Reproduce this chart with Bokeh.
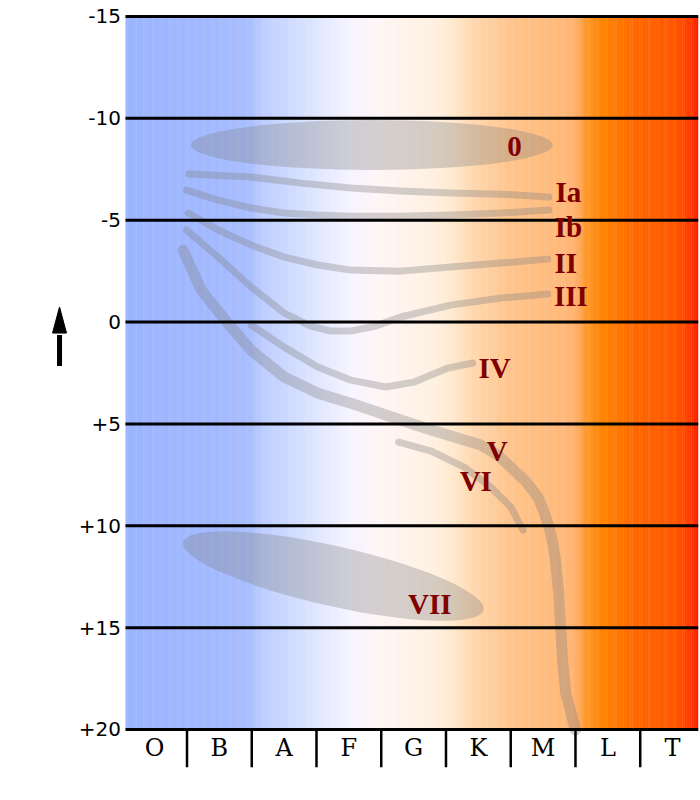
import numpy as np
from bokeh.plotting import figure
from bokeh.models import Range1d, ColumnDataSource
from bokeh.core.properties import value
from bokeh.embed import file_html
from bokeh.resources import INLINE

# ---------------- data ----------------
spectral_classes = ["O", "B", "A", "F", "G", "K", "M", "L", "T"]
class_centers = [0.5, 1.5, 2.5, 3.5, 4.5, 5.5, 6.5, 7.5, 8.5]
class_bounds = [1, 2, 3, 4, 5, 6, 7, 8]

mag_ticks = [-15, -10, -5, 0, 5, 10, 15, 20]
mag_labels = ["-15", "-10", "-5", "0", "+5", "+10", "+15", "+20"]

# luminosity-class tracks: spectral position vs absolute magnitude
ia_x = [1.03, 1.99, 2.76, 3.53, 4.30, 5.07, 5.85, 6.59]
ia_y = [-7.27, -7.12, -6.82, -6.58, -6.43, -6.33, -6.28, -6.14]

ib_x = [0.99, 1.48, 1.99, 2.50, 3.02, 3.53, 4.30, 5.07, 5.85, 6.59]
ib_y = [-6.48, -5.99, -5.60, -5.35, -5.25, -5.20, -5.20, -5.25, -5.35, -5.50]

ii_x = [1.02, 1.48, 1.99, 2.50, 3.02, 3.53, 4.30, 5.07, 5.85, 6.57]
ii_y = [-5.35, -4.52, -3.78, -3.19, -2.80, -2.55, -2.50, -2.70, -2.90, -3.09]

iii_x = [0.99, 1.48, 1.99, 2.50, 2.91, 3.22, 3.53, 3.91, 4.30, 5.07, 5.85, 6.57]
iii_y = [-4.52, -3.19, -1.72, -0.44, 0.20, 0.44, 0.44, 0.20, -0.25, -0.83, -1.18, -1.38]

iv_x = [1.99, 2.50, 3.02, 3.53, 4.07, 4.50, 5.03, 5.41]
iv_y = [0.15, 1.23, 2.21, 2.85, 3.19, 2.95, 2.26, 2.01]

v_x = [0.94, 1.22, 1.63, 1.99, 2.50, 3.02, 3.53, 4.30, 4.77, 5.54, 5.80, 6.05,
       6.23, 6.42, 6.51, 6.59, 6.65, 6.69, 6.74, 6.77, 6.80, 6.85, 6.96, 7.00]
v_y = [-3.53, -1.57, 0.05, 1.38, 2.70, 3.49, 3.98, 4.81, 5.30, 6.04, 6.53, 7.27,
       7.81, 8.59, 9.28, 10.06, 10.85, 11.68, 13.30, 14.97, 16.59, 18.21, 19.54, 20.03]

vi_x = [4.27, 4.77, 5.28, 5.69, 6.00, 6.19]
vi_y = [5.89, 6.33, 7.12, 8.10, 9.08, 10.21]

# hypergiant (0) and white-dwarf (VII) regions
zero_x, zero_y, zero_w, zero_h = 3.855, -8.69, 5.59, 2.45
vii_x, vii_y = 3.26, 12.47

lum_labels = ["0", "Ia", "Ib", "II", "III", "IV", "V", "VI", "VII"]
lum_label_x = [6.06, 6.89, 6.89, 6.85, 6.93, 5.75, 5.79, 5.46, 4.75]
lum_label_y = [-8.64, -6.38, -4.66, -2.89, -1.27, 2.26, 6.33, 7.81, 13.85]

# background colour stops (spectral position, colour)
grad_x = [0.05, 1.41, 1.98, 2.15, 2.84, 3.52, 3.98, 4.84, 5.12, 5.41, 5.98,
          6.83, 7.00, 7.15, 7.41, 7.70, 7.98, 8.56, 8.72, 8.90]
grad_c = ["#9bb4ff", "#a2b9ff", "#a9beff", "#bcccff", "#d8e2ff", "#f6f4ff",
          "#fff5f5", "#fff0e0", "#ffe8cc", "#ffd8b0", "#ffc48c", "#ffb878",
          "#ffb070", "#ff9a30", "#ff8400", "#ff7500", "#ff6600", "#ff5500",
          "#ff4400", "#ff2000"]

# ---------------- figure ----------------
X0, X1 = 0.05, 8.90
p = figure(width=700, height=780, output_backend="svg", toolbar_location=None,
           x_range=Range1d(-1.8805, X1), y_range=Range1d(22.16, -15.785),
           x_axis_location=None, y_axis_location=None,
           min_border_left=0, min_border_right=2, min_border_top=0,
           min_border_bottom=7, outline_line_color=None)
p.grid.visible = False

# background gradient strips
def _rgb(h):
    return [int(h[i:i + 2], 16) for i in (1, 3, 5)]

rgb = np.array([_rgb(c) for c in grad_c], dtype=float)
edges = np.linspace(X0, X1, 321)
mids = 0.5 * (edges[:-1] + edges[1:])
cols = []
for m in mids:
    r = np.interp(m, grad_x, rgb[:, 0])
    g = np.interp(m, grad_x, rgb[:, 1])
    b = np.interp(m, grad_x, rgb[:, 2])
    cols.append("#%02x%02x%02x" % (int(round(r)), int(round(g)), int(round(b))))
rights = np.minimum(edges[1:] + 0.006, X1)
p.quad(left=edges[:-1], right=rights, top=-15, bottom=20,
       fill_color=cols, line_color=None)

# regions
p.ellipse(x=zero_x, y=zero_y, width=zero_w, height=zero_h,
          fill_color="#808080", fill_alpha=0.33, line_color=None)
p.ellipse(x=vii_x, y=vii_y, width=308, height=60, width_units="screen",
          height_units="screen", angle=-12.7, angle_units="deg",
          fill_color="#808080", fill_alpha=0.33, line_color=None)

# tracks
tracks = ColumnDataSource(dict(
    xs=[ia_x, ib_x, ii_x, iii_x, iv_x, v_x, vi_x],
    ys=[ia_y, ib_y, ii_y, iii_y, iv_y, v_y, vi_y],
    w=[7, 7, 7, 7, 7, 11, 7],
))
p.multi_line("xs", "ys", line_width="w", source=tracks, line_color="#808080",
             line_alpha=0.35, line_cap="round", line_join="round")

# horizontal magnitude lines
p.segment(x0=X0, y0=mag_ticks, x1=X1, y1=mag_ticks,
          line_color="black", line_width=3)

# magnitude tick labels
p.text(x=[-0.02] * len(mag_ticks), y=mag_ticks, text=mag_labels,
       text_font=value("DejaVu Sans"), text_font_size="20px",
       text_align="right", text_baseline="middle", text_color="black")

# spectral class separators and letters
p.segment(x0=class_bounds, y0=20, x1=class_bounds, y1=21.85,
          line_color="black", line_width=2.5)
p.text(x=class_centers, y=[20.89] * len(class_centers), text=spectral_classes,
       text_font=value("DejaVu Serif"), text_font_size="24px",
       text_align="center", text_baseline="alphabetic", text_color="black")

# luminosity class labels
p.text(x=lum_label_x, y=lum_label_y, text=lum_labels,
       text_font=value("Liberation Serif"), text_font_style="bold",
       text_font_size="29px", text_align="center",
       text_baseline="alphabetic", text_color="#800000")

# brightness arrow (left margin)
ax_c, tip, base, tail = -0.969, -0.74, 0.54, 2.16
hw = 0.108
p.segment(x0=ax_c, y0=tail, x1=ax_c, y1=base + 0.1, line_color="black",
          line_width=5)
p.patch(x=[ax_c - hw, ax_c, ax_c + hw], y=[base, tip, base],
        fill_color="black", line_color="black", line_width=1)

open("out.html", "w").write(file_html(p, INLINE))
